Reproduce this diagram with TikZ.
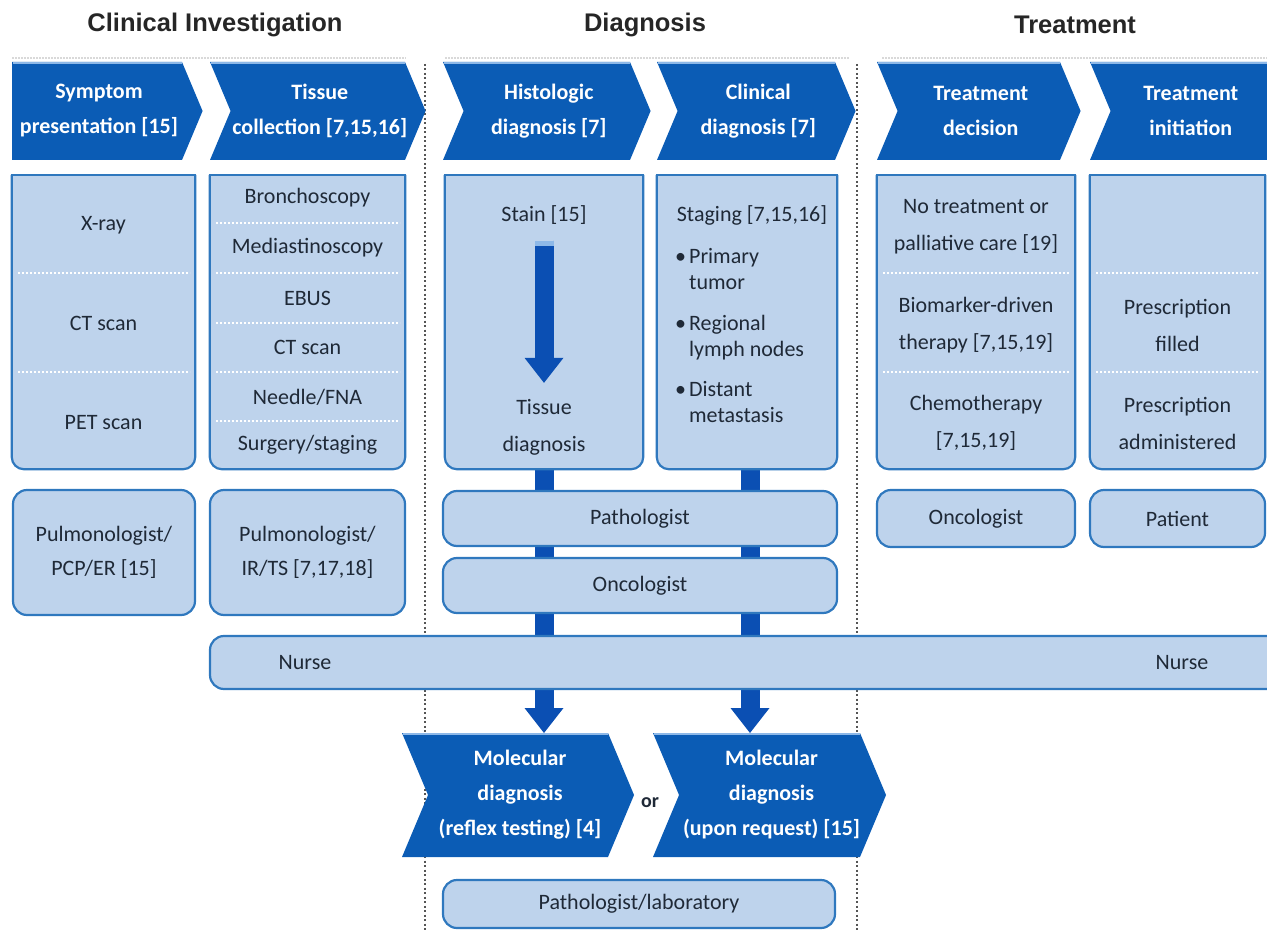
\documentclass[tikz,border=0pt]{standalone}
\usepackage{fontspec}
\setmainfont{Carlito}
\newfontfamily\headfont{Liberation Sans}
\usetikzlibrary{arrows.meta}

\definecolor{chevblue}{HTML}{0B5CB5}
\definecolor{chevlight}{HTML}{8DB8E8}
\definecolor{boxblue}{HTML}{BED3EC}
\definecolor{edgeblue}{HTML}{2F78BE}
\definecolor{flowblue}{HTML}{0B4FB3}
\definecolor{inkgray}{HTML}{1F2937}
\definecolor{divgray}{HTML}{555555}

% #1 name, #2 left, #3 right, #4 top, #5 bottom, #6 notch (0/1), #7 text
\newcommand{\chevron}[7]{%
    \pgfmathsetmacro{\chd}{0.21*(#5-#4)}
    \pgfmathsetmacro{\chm}{(#4+#5)/2}
    \fill[chevron] (#2,#4) -- (#3,#4) -- (#3+\chd,\chm) -- (#3,#5) -- (#2,#5) -- (#2+#6*\chd,\chm) -- cycle;
    \draw[chevtop] (#2+1,#4+1) -- (#3,#4+1);
    \coordinate (#1 top) at (#2,#4);
    \node[chevtext] (#1) at ({(#2+#3+#6*\chd)/2+2},\chm) {#7};}

\begin{document}
\begin{tikzpicture}[x=1pt, y=-1pt,
        chevron/.style={fill=chevblue},
        chevtop/.style={draw=chevlight, line width=2pt},
        chevtext/.style={text=white, font=\bfseries\fontsize{22}{35}\selectfont, align=center, inner sep=0pt},
        panel/.style={inner sep=0pt},
        panelline/.style={draw=edgeblue, fill=boxblue, line width=2.2pt},
        itemtext/.style={text=inkgray, font=\fontsize{22}{37}\selectfont, align=center, inner sep=0pt},
        role/.style={draw=edgeblue, fill=boxblue, line width=2.2pt, rounded corners=14pt, inner sep=0pt,
            text=inkgray, font=\fontsize{22}{34}\selectfont, align=center},
        sepline/.style={draw=white, line width=2pt, dash pattern=on 2pt off 2pt},
        divider/.style={draw=divgray, line width=2.2pt, dash pattern=on 2pt off 2.5pt},
        topdots/.style={draw=gray!30, line width=1.5pt, dash pattern=on 1.5pt off 1.5pt},
        flowbar/.style={draw=flowblue, line width=19pt, -{Triangle[width=39pt,length=25pt,line width=0pt]}},
        title/.style={text=black!85, font=\headfont\bfseries\fontsize{25.5}{30}\selectfont}
    ]
    \useasboundingbox (0,0) rectangle (1267,931);
    \clip (0,0) rectangle (1267,931);

    % headings
    \node[title] (clinhead) at (215,25) {Clinical Investigation};
    \node[title] (diaghead) at (645,25) {Diagnosis};
    \node[title] (treathead) at (1075,25) {Treatment};

    % guide lines
    \foreach \a/\b in {12/406,445/850,882/1267}
        \draw[topdots] (\a,58) -- (\b,58);
    \foreach \x in {425,857}
        \draw[divider] (\x,64) -- (\x,931);

    % step chevrons
    \chevron{symstep}{12}{182}{62}{160}{0}{Symptom\\presentation [15]}
    \chevron{tisstep}{210}{405}{62}{160}{1}{Tissue\\collection [7,15,16]}
    \chevron{hisstep}{443}{630}{62}{160}{1}{Histologic\\diagnosis [7]}
    \chevron{clistep}{657}{835}{62}{160}{1}{Clinical\\diagnosis [7]}
    \chevron{decstep}{877}{1060}{62}{160}{1}{Treatment\\decision}
    \chevron{inistep}{1090}{1267}{62}{160}{1}{Treatment\\initiation}
    \chevron{molL}{402}{608}{733}{857}{1}{Molecular\\diagnosis\\(reflex testing) [4]}
    \chevron{molR}{653}{860}{733}{857}{1}{Molecular\\diagnosis\\(upon request) [15]}
    \node[text=inkgray, font=\bfseries\fontsize{20}{24}\selectfont, inner sep=0pt] (or) at (650,803) {or};

    % panels
    \node[panel, minimum width=183pt, minimum height=294pt] (sympanel) at (103.5,322) {};
    \node[panel, minimum width=195pt, minimum height=294pt] (tispanel) at (307.5,322) {};
    \node[panel, minimum width=198pt, minimum height=294pt] (hispanel) at (544,322) {};
    \node[panel, minimum width=180pt, minimum height=294pt] (clipanel) at (747,322) {};
    \node[panel, minimum width=198pt, minimum height=294pt] (decpanel) at (976,322) {};
    \node[panel, minimum width=175pt, minimum height=294pt] (inipanel) at (1177.5,322) {};

    % flow down to molecular diagnosis
    \draw[flowbar] (hispanel.south) -- (hispanel.south |- molL top);
    \draw[flowbar] ([xshift=3pt]clipanel.south) -- ([xshift=3pt]clipanel.south |- molR top);

    \foreach \p in {sympanel,tispanel,hispanel,clipanel,decpanel,inipanel}{
        \filldraw[panelline, rounded corners=12pt] (\p.north west) -- (\p.south west) -- (\p.south east) -- (\p.north east);
        \draw[panelline, fill=none, line cap=rect] (\p.north west) -- (\p.north east);
    }
    \foreach \a/\b/\y in {18/190/273,18/190/372,
            216/400/223,216/400/273,216/400/323,216/400/372,216/400/421,
            883/1070/273,883/1070/372,1096/1260/273,1096/1260/372}
        \draw[sepline] (\a,\y) -- (\b,\y);

    % symptom presentation
    \node[itemtext] (xray) at (103.5,225) {X-ray};
    \node[itemtext] (ctscanA) at (103.5,323) {CT scan};
    \node[itemtext] (petscan) at (103.5,423) {PET scan};

    % tissue collection
    \node[itemtext] (broncho) at (307.5,198) {Bronchoscopy};
    \node[itemtext] (medias) at (307.5,248) {Mediastinoscopy};
    \node[itemtext] (ebus) at (307.5,298) {EBUS};
    \node[itemtext] (ctscanB) at (307.5,347) {CT scan};
    \node[itemtext] (needle) at (307.5,397) {Needle/FNA};
    \node[itemtext] (surgery) at (307.5,445) {Surgery/staging};

    % histologic diagnosis
    \node[itemtext] (stain) at (544,215) {Stain [15]};
    \node[itemtext] (tissuedx) at (544,427) {Tissue\\diagnosis};
    \draw[flowbar, shorten <=16pt, shorten >=16pt] (stain.south) -- (tissuedx.north);
    \draw[draw=chevlight, line width=19pt] ([yshift=-16pt]stain.south) -- ([yshift=-21pt]stain.south);

    % clinical diagnosis
    \node[itemtext] (staging) at (752,215) {Staging [7,15,16]};
    \node[text=inkgray, font=\fontsize{22}{26}\selectfont, inner sep=0pt, anchor=north west] (stagelist) at (675,245)
        {\begin{tabular}{@{}l@{\hspace{3pt}}l@{}}
            \textbullet & Primary\\
            & tumor\\[15pt]
            \textbullet & Regional\\
            & lymph nodes\\[14pt]
            \textbullet & Distant\\
            & metastasis
        \end{tabular}};

    % treatment decision
    \node[itemtext] (notreat) at (976,227) {No treatment or\\palliative care [19]};
    \node[itemtext] (biomark) at (976,325) {Biomarker-driven\\therapy [7,15,19]};
    \node[itemtext] (chemo) at (976,423) {Chemotherapy\\{[7,15,19]}};

    % treatment initiation
    \node[itemtext] (filled) at (1177.5,325) {Prescription\\filled};
    \node[itemtext] (admin) at (1177.5,423) {Prescription\\administered};

    % roles
    \node[role, minimum width=182pt, minimum height=125pt] (symrole) at (104,552.5) {Pulmonologist/\\PCP/ER [15]};
    \node[role, minimum width=195pt, minimum height=125pt] (tisrole) at (307.5,552.5) {Pulmonologist/\\IR/TS [7,17,18]};
    \node[role, minimum width=394pt, minimum height=55pt] (patho) at (640,518.5) {Pathologist};
    \node[role, minimum width=394pt, minimum height=55pt] (onco) at (640,585.5) {Oncologist};
    \node[role, minimum width=198pt, minimum height=57pt] (decrole) at (976,518.5) {Oncologist};
    \node[role, minimum width=175pt, minimum height=57pt] (inirole) at (1177.5,518.5) {Patient};
    \node[role, minimum width=1090pt, minimum height=53pt] (nurse) at (755,662.5) {};
    \node[itemtext] (nurseL) at (305,663) {Nurse};
    \node[itemtext] (nurseR) at (1182,663) {Nurse};
    \node[role, minimum width=392pt, minimum height=48pt] (lab) at (639,904) {Pathologist/laboratory};
\end{tikzpicture}
\end{document}
